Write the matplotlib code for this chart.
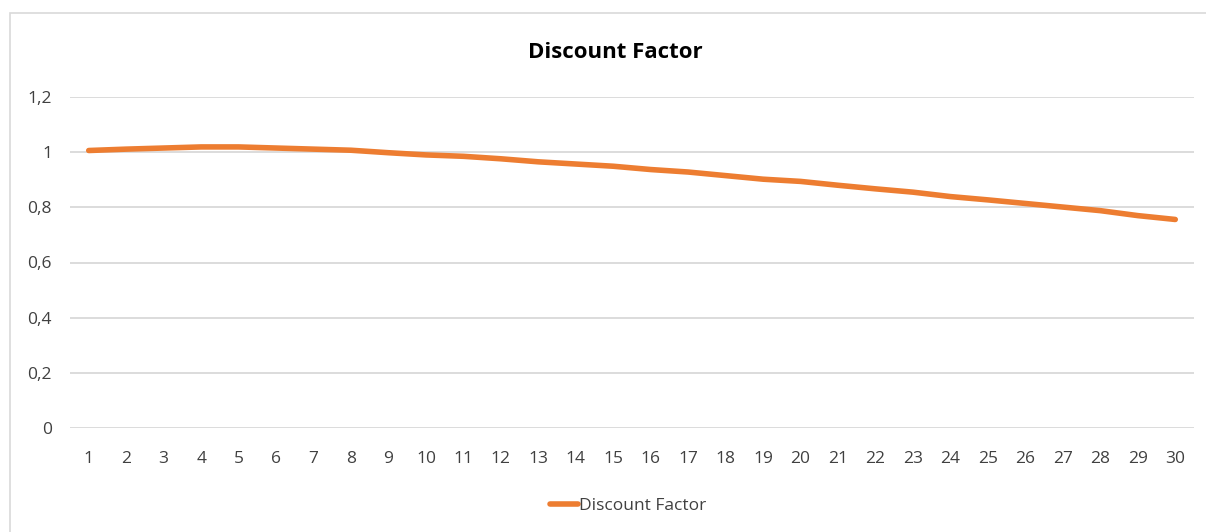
import matplotlib.pyplot as plt
from matplotlib.patches import Rectangle
from matplotlib.ticker import FuncFormatter

plt.rcParams['font.family'] = ['Open Sans', 'DejaVu Sans']

# Discount factor per year
years = list(range(1, 31))
discount_factor = [1.006, 1.011, 1.015, 1.019, 1.019, 1.015, 1.011, 1.007, 0.998, 0.990,
                   0.985, 0.976, 0.965, 0.957, 0.949, 0.937, 0.928, 0.915, 0.902, 0.894,
                   0.880, 0.867, 0.855, 0.839, 0.827, 0.814, 0.801, 0.788, 0.770, 0.756]
y_ticks = [0, 0.2, 0.4, 0.6, 0.8, 1.0, 1.2]

W, H = 1206, 532
fig = plt.figure(figsize=(W / 100, H / 100), dpi=100)
ax = fig.add_axes([70 / W, 1 - 428 / H, (1194 - 70) / W, (428 - 97) / H])

# light frame round the chart area
fig.patches.append(Rectangle((10 / W, -0.1), 1.2, 1 - 13 / H + 0.1, transform=fig.transFigure,
                             fill=False, edgecolor='#d9d9d9', linewidth=1.2))

line, = ax.plot(years, discount_factor, color='#ed7d31', linewidth=4.0,
                solid_capstyle='round', solid_joinstyle='round', label='Discount Factor', zorder=3)

ax.set_xlim(0.5, 30.5)
ax.set_ylim(0, 1.2)
ax.set_xticks(years)
ax.set_yticks(y_ticks)
ax.yaxis.set_major_formatter(FuncFormatter(lambda v, _: f'{v:g}'.replace('.', ',')))
ax.grid(axis='y', color='#d9d9d9', linewidth=1.3)
ax.set_axisbelow(True)
for side in ['left', 'right', 'top', 'bottom']:
    ax.spines[side].set_visible(False)
ax.tick_params(axis='both', length=0, labelsize=12.5, colors='#404040')
ax.tick_params(axis='y', pad=13)
ax.tick_params(axis='x', pad=16.5)

fig.text(615 / W, 1 - 53 / H, 'Discount Factor', ha='center', va='center',
         fontsize=16, fontweight='bold', color='#000000')

fig.legend(handles=[line], loc='center', bbox_to_anchor=(628 / W, 1 - 506 / H), frameon=False,
           fontsize=12.5, labelcolor='#404040', handlelength=1.6, handletextpad=0.05)

fig.savefig('out.png', dpi=100)
